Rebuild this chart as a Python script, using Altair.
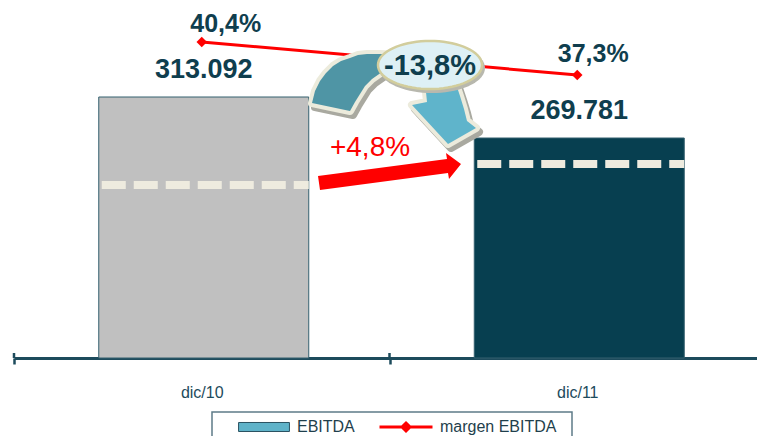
import math
import altair as alt
import pandas as pd

# ---------------- data ----------------
categories = ["dic/10", "dic/11"]
ebitda = [313092, 269781]
margin = [40.4, 37.3]
dash_level = [220100, 242300]
series = ["EBITDA", "margen EBITDA"]
growth_label = "+4,8%"

ebitda_domain = [37380, 407110]
margin_domain = [10.715, 43.594]

# ---------------- styles ----------------
FONT = "Liberation Sans"
DARK = "#0f3e4e"
RED = "#ff0000"
OX, OY = 14, 12  # reference-page coordinates -> plot coordinates (content lifted 4px)
PLOT_H = 350


def fmt_thousands(v):
    return f"{v:,}".replace(",", ".")


def fmt_pct(v):
    return f"{v:.1f}".replace(".", ",") + "%"


change = (ebitda[1] / ebitda[0] - 1) * 100

df = pd.DataFrame({
    "cat": categories,
    "ebitda": ebitda,
    "margin": margin,
    "dash": dash_level,
    "series": [series[1]] * len(categories),
    "elabel": [fmt_thousands(v) for v in ebitda],
    "mlabel": [fmt_pct(v) for v in margin],
})
one = pd.DataFrame({"a": [0]})
legend_df = pd.DataFrame({"series": [series[0]]})

X = alt.X(
    "cat:N", sort=categories, title=None,
    scale=alt.Scale(paddingInner=0, paddingOuter=0, range=[0, 751]),
    axis=alt.Axis(
        tickBand="extent", domainColor="#1d4b5c", domainWidth=3,
        tickColor="#1d4b5c", tickWidth=2.5, tickSize=6,
        labelFont=FONT, labelFontSize=16, labelColor="#1d4b5c",
        labelPadding=20, labelAngle=0, grid=False,
    ),
)
YE = alt.Scale(domain=ebitda_domain, zero=False, nice=False)
YM = alt.Scale(domain=margin_domain, zero=False, nice=False)

base = alt.Chart(df)

bars = base.mark_bar(width=210, stroke="#35606f", strokeWidth=1, xOffset=2).encode(
    x=X,
    y=alt.Y("ebitda:Q", scale=YE, axis=None),
    y2=alt.datum(ebitda_domain[0]),
    fill=alt.condition(alt.datum.cat == categories[0], alt.value("#c0c0c0"), alt.value("#073f50")),
)
dashes = base.mark_rule(color="#eeebdf", strokeWidth=8, strokeDash=[24, 8],
                        xOffset=-100, x2Offset=107).encode(
    x=X, x2=alt.X2("cat:N"),
    y=alt.Y("dash:Q", scale=YE, axis=None),
)
etext = base.mark_text(font=FONT, fontSize=27, fontWeight="bold", color=DARK,
                       dy=-27, dx=2, baseline="middle").encode(
    x=X, y=alt.Y("ebitda:Q", scale=YE, axis=None), text="elabel:N",
)
stubs = base.mark_rule(color="#1d4b5c", strokeWidth=2.5).encode(
    x=alt.X("cat:N", sort=categories, bandPosition=0),
    y=alt.value(PLOT_H - 5), y2=alt.value(PLOT_H),
)
bar_group = alt.layer(bars, dashes, stubs, etext)

LEG = dict(title=None, orient="none", direction="horizontal", symbolSize=2809,
           clipHeight=18, padding=0, labelOffset=6, labelFont=FONT, labelFontSize=16,
           labelColor="#1f3f4c", symbolOpacity=1)
LEG_Y = 410

line = base.mark_line(strokeWidth=3).encode(
    x=X, y=alt.Y("margin:Q", scale=YM, axis=None),
    color=alt.Color("series:N", scale=alt.Scale(domain=[series[1]], range=[RED]),
                    legend=alt.Legend(legendX=364, legendY=LEG_Y,
                                      symbolType="M-1,0L1,0M0,-0.15L0.15,0L0,0.15L-0.15,0Z",
                                      symbolStrokeWidth=3, symbolFillColor=RED,
                                      symbolStrokeColor=RED, **LEG)),
)
pts = base.mark_point(shape="diamond", filled=True, size=110, color=RED, opacity=1).encode(
    x=X, y=alt.Y("margin:Q", scale=YM, axis=None),
)
mt1 = base.transform_filter(alt.datum.cat == categories[0]).mark_text(
    font=FONT, fontSize=25, fontWeight="bold", color=DARK, dx=24, dy=-18, baseline="middle"
).encode(x=X, y=alt.Y("margin:Q", scale=YM, axis=None), text="mlabel:N")
mt2 = base.transform_filter(alt.datum.cat == categories[1]).mark_text(
    font=FONT, fontSize=25, fontWeight="bold", color=DARK, dx=16, dy=-21, baseline="middle"
).encode(x=X, y=alt.Y("margin:Q", scale=YM, axis=None), text="mlabel:N")
margin_group = alt.layer(line, pts, mt1, mt2)

# legend box + EBITDA legend entry (legend-only layer, drawn off-canvas)
legend_box = alt.Chart(one).mark_rect(fill="#ffffff", stroke="#5d7b88", strokeWidth=1.5).encode(
    x=alt.value(198), x2=alt.value(558), y=alt.value(LEG_Y - 6), y2=alt.value(LEG_Y + 40)
)
ebitda_key = alt.Chart(legend_df).mark_point(filled=True, opacity=1, size=50).encode(
    x=alt.value(-300), y=alt.value(-300),
    fill=alt.Fill("series:N", scale=alt.Scale(domain=[series[0]], range=["#5fb3c9"]),
                  legend=alt.Legend(legendX=223, legendY=LEG_Y,
                                    symbolType="M-0.96,-0.17L0.96,-0.17L0.96,0.17L-0.96,0.17Z",
                                    symbolStrokeWidth=1, symbolStrokeColor="#2b5262", **LEG)),
)

# ---------------- annotation shapes (reference px, converted to symbol paths) ----------------
S = 100.0


def path_of(points, ax, ay):
    return "M" + "L".join(f"{(x - ax) / S:.4f},{(y - ay) / S:.4f}" for x, y in points) + "Z"


def deco(points, ax, ay, fill, stroke=None, sw=0):
    kw = dict(shape=path_of(points, ax, ay), size=(2 * S) ** 2, filled=True,
              fill=fill, opacity=1, strokeJoin="round", strokeWidth=sw)
    if stroke:
        kw["stroke"] = stroke
    return alt.Chart(one).mark_point(**kw).encode(x=alt.value(ax - OX), y=alt.value(ay - OY))


dark_outer = [(312, 107), (315, 95), (320, 85), (326, 77), (333, 70), (341, 65), (350, 62),
              (358, 59), (367, 58), (380, 58), (398, 59), (412, 61)]
dark_inner = [(405, 79), (394, 76), (382, 76), (372, 83), (365, 90), (360, 98), (355, 106), (350, 115)]
light_outer = [(412, 61), (432, 66), (448, 76), (456, 88), (460, 100), (464, 113), (467, 125)]
light_head = [(476, 132), (448, 148), (412, 109), (427, 106)]
light_inner = [(426, 96), (421, 87), (414, 82), (405, 79)]

dark_pts = dark_outer + dark_inner
light_pts = light_outer + light_head + light_inner
union_pts = dark_outer + light_outer[1:] + light_head + light_inner + dark_inner[1:]
AX, AY = 395, 100
shadow_pts = [(x + 3, y + 4) for x, y in union_pts]

ECX, ECY, ERX, ERY = 430, 69, 52, 24
ell_pts = [(ECX + ERX * math.cos(2 * math.pi * k / 72), ECY + ERY * math.sin(2 * math.pi * k / 72))
           for k in range(72)]
ell_shadow = [(x + 2, y + 3) for x, y in ell_pts]

red_arrow = [(318, 180), (447, 163), (446, 157), (461, 168), (449, 183), (448, 177), (320, 194)]

decos = [
    deco(shadow_pts, AX, AY, "#a9a9a0", "#a9a9a0", 8),
    deco(union_pts, AX, AY, "#ecebdc", "#ecebdc", 8),
    deco(dark_pts, AX, AY, "#4f95a5"),
    deco(light_pts, AX, AY, "#5fb4cb"),
    deco(ell_shadow, ECX, ECY, "#b8b8ae", "#b8b8ae", 2),
    deco(ell_pts, ECX, ECY, "#def0f5", "#d2cd9c", 2.5),
    deco(red_arrow, 390, 175, RED),
]

t_change = alt.Chart(one).mark_text(
    text=fmt_pct(change), font=FONT, fontSize=29, fontWeight="bold", color=DARK, baseline="middle"
).encode(x=alt.value(ECX - OX), y=alt.value(ECY + 1 - OY))
t_growth = alt.Chart(one).mark_text(
    text=growth_label, font=FONT, fontSize=28, color=RED, baseline="middle"
).encode(x=alt.value(370 - OX), y=alt.value(152 - OY))

chart = alt.layer(legend_box, bar_group, margin_group, ebitda_key, *decos, t_change, t_growth).resolve_scale(
    y="independent"
).properties(
    width=743, height=PLOT_H,
    padding={"left": 6, "top": 0, "right": 0, "bottom": 428 - PLOT_H},
    autosize=alt.AutoSizeParams(type="none"),
    background="#ffffff",
).configure(font=FONT).configure_view(stroke=None)

chart.save("out.html", embed_options={"renderer": "svg", "actions": False})
